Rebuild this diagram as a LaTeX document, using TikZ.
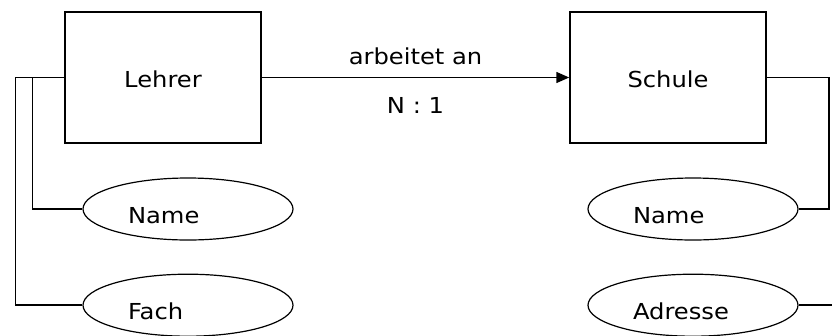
\documentclass[tikz,border=0pt]{standalone}
\usepackage{fontspec}
\setmainfont{DejaVu Sans}[FakeStretch=1.1]
\usepackage{tikz}
\usetikzlibrary{positioning,shapes.geometric,arrows.meta}

\begin{document}
\begin{tikzpicture}
[x=1pt, y=-1pt, line width=1.5pt,
ent-a/.style={rectangle, draw, minimum width = 196pt, minimum height = 131pt, text height = 20pt, text depth = 0pt},
attr-a/.style={ellipse, draw, line width=1.2pt, minimum width = 210pt, minimum height = 62pt, text width = 120pt, align = left, text height = 28pt, text depth = 0pt},
text-a/.style={font=\fontsize{22}{26}\selectfont},]
\useasboundingbox (0,0) rectangle (832,335);
\node (lehrer)  [ent-a, text-a] at (163,77.5)             {Lehrer};
\node (schule)  [ent-a, text-a, right = 307.5pt of lehrer] {Schule};
\node (name-l)  [attr-a, text-a] at (188,209)             {Name};
\node (fach)    [attr-a, text-a, below = 33pt of name-l]   {Fach};
\node (name-s)  [attr-a, text-a] at (693,209)             {Name};
\node (adresse) [attr-a, text-a, below = 33pt of name-s]   {Adresse};
\coordinate (r-v)   at (829,0);
\coordinate (r-end) at (832,0);
% Beziehung
\draw [-{Triangle[length=13pt,width=11pt]}] (lehrer) -- (schule)
  node [text-a, midway, above = 9pt] {arbeitet an}
  node [text-a, midway, below = 16pt] {N : 1};
% Attribute
\draw (lehrer.west) -- ++(-49,0) |- (fach.west);
\draw (lehrer.west) -- ++(-32,0) |- (name-l.west);
\draw (schule.east) -- (schule.east -| r-v) |- (name-s.east);
\draw (adresse.east) -- (adresse.east -| r-end);
\end{tikzpicture}
\end{document}
